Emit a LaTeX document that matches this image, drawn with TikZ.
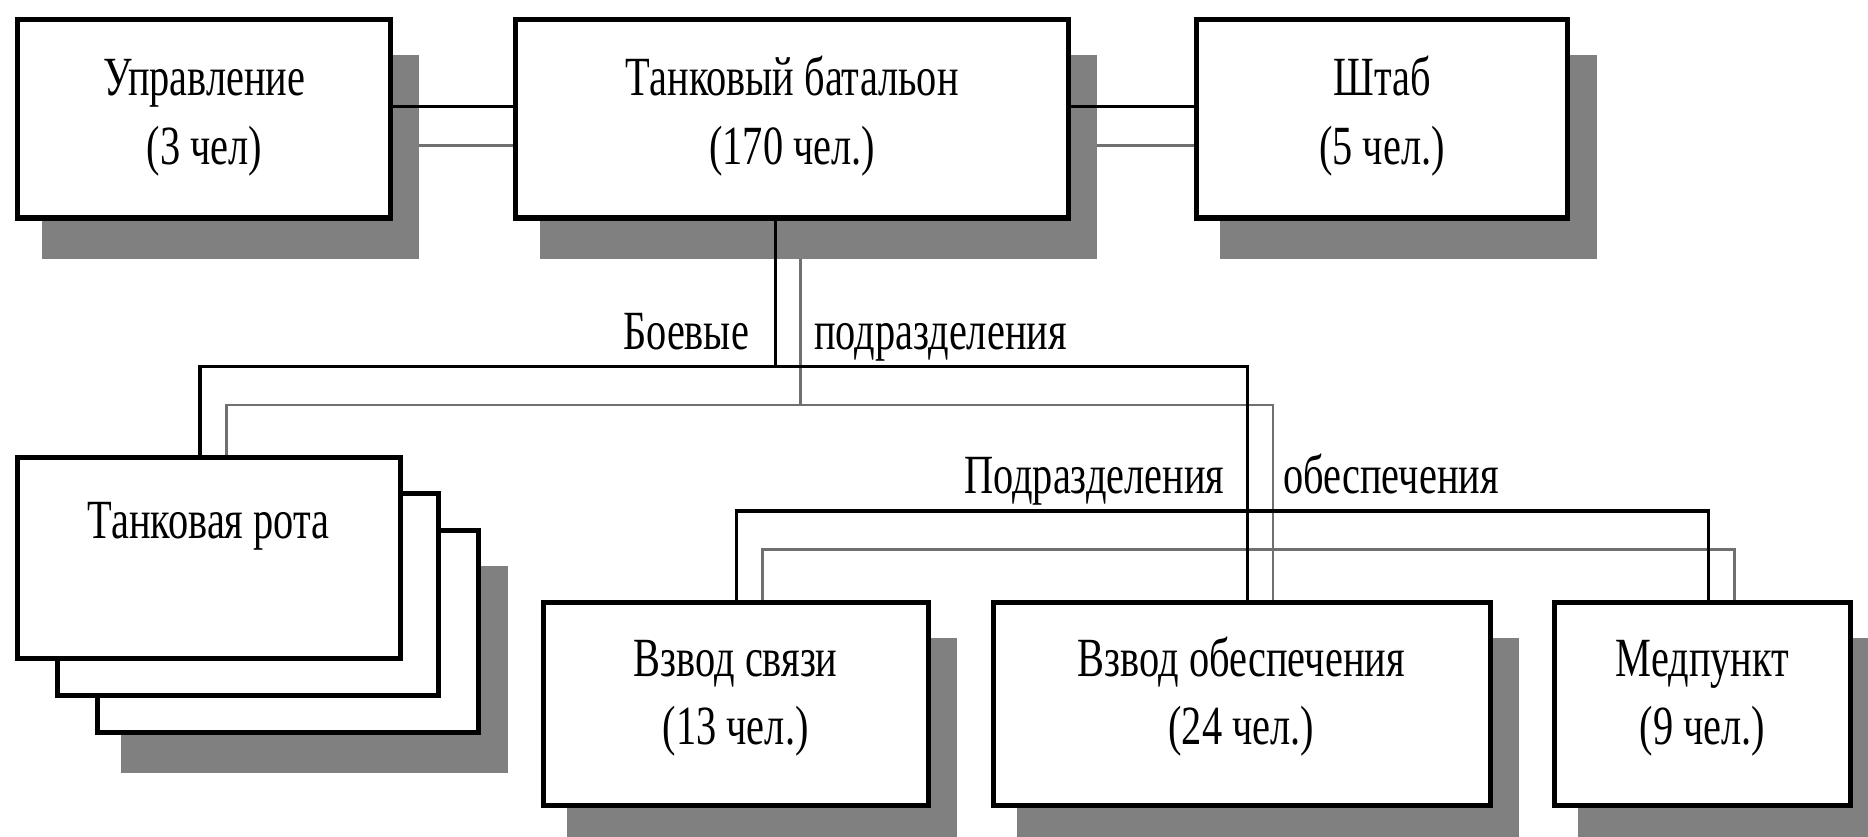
\documentclass[tikz,border=0pt]{standalone}
\usepackage{fontspec}
\newfontfamily\cf{Liberation Serif}[FakeStretch=0.73]
\usetikzlibrary{fit}
\pgfdeclarelayer{glines}
\pgfdeclarelayer{shad}
\pgfsetlayers{glines,shad,main}
\definecolor{shadowc}{HTML}{808080}
\definecolor{glinec}{HTML}{707070}
\tikzset{
  box/.style={draw=black, line width=3pt, fill=white, inner sep=0pt, fit={#1}},
  lbl/.style={inner sep=0pt, anchor=base, font=\cf\fontsize{33}{40}\selectfont},
  bl/.style={line width=2pt, black},
  gl/.style={line width=1.6pt, glinec},
  shadowbox/.style={fill=shadowc},
}
\newcommand\dropshade[1]{\fill[shadowbox] ([shift={(22,32)}]#1.south west) rectangle ([shift={(22,32)}]#1.north east);}
\begin{document}
\begin{tikzpicture}[x=0.025cm, y=-0.025cm]
\useasboundingbox (0,0) rectangle (1568,702);
% boxes
\node[box={(15,16) (328,183)}] (upr) {};
\node[box={(433,16) (897,183)}] (tb) {};
\node[box={(1004,16) (1316,183)}] (sh) {};
\node[box={(82,445) (402,615)}] (r3) {};
\node[box={(48,414) (368,584)}] (r2) {};
\node[box={(15,384) (336,553)}] (r1) {};
\node[box={(456,506) (779,676)}] (vs) {};
\node[box={(834,506) (1251,676)}] (vo) {};
\node[box={(1305,506) (1553,676)}] (mp) {};
% shadows
\begin{pgfonlayer}{shad}
\dropshade{upr}
\dropshade{tb}
\dropshade{sh}
\dropshade{r3}
\dropshade{vs}
\dropshade{vo}
\dropshade{mp}
\end{pgfonlayer}
% texts
\node[lbl] (upr1) at (171.5,80) {Управление};
\node[lbl] (upr2) at (171.5,138) {(3 чел)};
\node[lbl] (tb1) at (665,80) {Танковый батальон};
\node[lbl] (tb2) at (665,138) {(170 чел.)};
\node[lbl] (sh1) at (1160,80) {Штаб};
\node[lbl] (sh2) at (1160,138) {(5 чел.)};
\node[lbl] (r1t) at (175,452) {Танковая рота};
\node[lbl] (vs1) at (617.5,568) {Взвод связи};
\node[lbl] (vs2) at (617.5,625) {(13 чел.)};
\node[lbl] (vo1) at (1042,568) {Взвод обеспечения};
\node[lbl] (vo2) at (1042,625) {(24 чел.)};
\node[lbl] (mp1) at (1429,568) {Медпункт};
\node[lbl] (mp2) at (1429,625) {(9 чел.)};
\node[lbl, anchor=base east] (bo) at (629,293) {Боевые};
\node[lbl, anchor=base west] (po) at (683,293) {подразделения};
\node[lbl, anchor=base east] (pd) at (1028,414) {Подразделения};
\node[lbl, anchor=base west] (ob) at (1077,414) {обеспечения};
% levels
\coordinate (h1) at (0,89.5);
\coordinate (h2) at (0,122);
\coordinate (hb) at (0,307.5);
\coordinate (hg) at (0,340);
\coordinate (hs) at (0,429);
\coordinate (hsg) at (0,461);
\coordinate (bx) at (651,0);
\coordinate (gx) at (672,0);
\coordinate (xa) at (168,0);
\coordinate (xb) at (1047,0);
\coordinate (ga) at (190,0);
\coordinate (gb) at (1068.5,0);
\coordinate (sa) at (618,0);
\coordinate (sb) at (1434,0);
\coordinate (sga) at (640,0);
\coordinate (sgb) at (1456,0);
% gray connectors
\begin{pgfonlayer}{glines}
\draw[gl] (upr.east |- h2) -- (tb.west |- h2);
\draw[gl] (tb.east |- h2) -- (sh.west |- h2);
\draw[gl] (tb.south -| gx) -- (gx |- hg);
\draw[gl] (r1.north -| ga) -- (ga |- hg) -- (gb |- hg) -- (vo.north -| gb);
\draw[gl] (vs.north -| sga) -- (sga |- hsg) -- (sgb |- hsg) -- (mp.north -| sgb);
\end{pgfonlayer}
% black connectors
\draw[bl] (upr.east |- h1) -- (tb.west |- h1);
\draw[bl] (tb.east |- h1) -- (sh.west |- h1);
\draw[bl] (tb.south -| bx) -- (bx |- hb);
\draw[bl] (r1.north -| xa) -- (xa |- hb) -- (xb |- hb) -- (vo.north -| xb);
\draw[bl] (vs.north -| sa) -- (sa |- hs) -- (sb |- hs) -- (mp.north -| sb);
\end{tikzpicture}
\end{document}
